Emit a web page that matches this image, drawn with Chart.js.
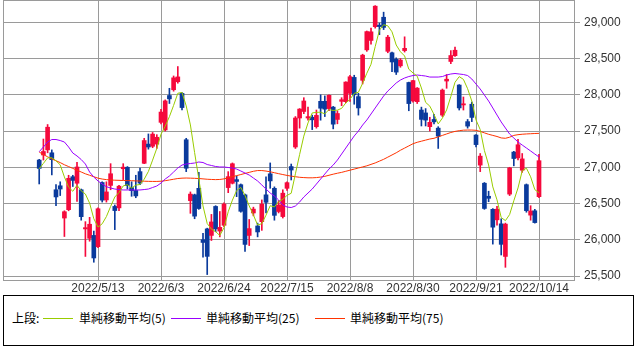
<!DOCTYPE html>
<html lang="ja">
<head>
<meta charset="utf-8">
<title>日足チャート</title>
<script src="https://cdn.jsdelivr.net/npm/chart.js@4.4.1/dist/chart.umd.min.js"></script>
<style>
  html, body { margin: 0; padding: 0; background: #fff; }
  #wrap { position: relative; width: 638px; height: 362px; overflow: hidden; }
  #chartBox { position: absolute; left: 0; top: 0; width: 638px; height: 295px; }
  #legend {
    position: absolute; left: 3px; top: 295px; width: 631px; height: 51px;
    border: 1px solid #000; box-sizing: border-box;
    font: 12px "Noto Sans CJK JP", sans-serif; color: #000;
  }
  #legend .txt { position: absolute; top: 15px; line-height: 14px; white-space: nowrap; }
  #legend .ln { position: absolute; top: 22px; width: 30px; height: 1px; }
</style>
</head>
<body>
<div id="wrap">
  <div id="chartBox"><canvas id="candleChart"></canvas></div>
  <div id="legend">
    <span class="txt" style="left:8px">上段:</span>
    <span class="ln" style="left:39px;background:#99cc00"></span>
    <span class="txt" style="left:75px">単純移動平均(5)</span>
    <span class="ln" style="left:167px;background:#9900ff"></span>
    <span class="txt" style="left:202px">単純移動平均(25)</span>
    <span class="ln" style="left:311px;background:#ff3300"></span>
    <span class="txt" style="left:346px">単純移動平均(75)</span>
  </div>
</div>
<script>
// trading days shown on the chart
const dates = [
  '2022/4/19','2022/4/20','2022/4/21','2022/4/22','2022/4/25','2022/4/26','2022/4/27','2022/4/28',
  '2022/5/2','2022/5/6','2022/5/9','2022/5/10','2022/5/11','2022/5/12','2022/5/13',
  '2022/5/16','2022/5/17','2022/5/18','2022/5/19','2022/5/20',
  '2022/5/23','2022/5/24','2022/5/25','2022/5/26','2022/5/27',
  '2022/5/30','2022/5/31','2022/6/1','2022/6/2','2022/6/3',
  '2022/6/6','2022/6/7','2022/6/8','2022/6/9','2022/6/10',
  '2022/6/13','2022/6/14','2022/6/15','2022/6/16','2022/6/17',
  '2022/6/20','2022/6/21','2022/6/22','2022/6/23','2022/6/24',
  '2022/6/27','2022/6/28','2022/6/29','2022/6/30','2022/7/1',
  '2022/7/4','2022/7/5','2022/7/6','2022/7/7','2022/7/8',
  '2022/7/11','2022/7/12','2022/7/13','2022/7/14','2022/7/15',
  '2022/7/19','2022/7/20','2022/7/21','2022/7/22',
  '2022/7/25','2022/7/26','2022/7/27','2022/7/28','2022/7/29',
  '2022/8/1','2022/8/2','2022/8/3','2022/8/4','2022/8/5',
  '2022/8/8','2022/8/9','2022/8/10','2022/8/12',
  '2022/8/15','2022/8/16','2022/8/17','2022/8/18','2022/8/19',
  '2022/8/22','2022/8/23','2022/8/24','2022/8/25','2022/8/26',
  '2022/8/29','2022/8/30','2022/8/31','2022/9/1','2022/9/2',
  '2022/9/5','2022/9/6','2022/9/7','2022/9/8','2022/9/9',
  '2022/9/12','2022/9/13','2022/9/14','2022/9/15','2022/9/16',
  '2022/9/20','2022/9/21','2022/9/22',
  '2022/9/26','2022/9/27','2022/9/28','2022/9/29','2022/9/30',
  '2022/10/3','2022/10/4','2022/10/5','2022/10/6','2022/10/7',
  '2022/10/11','2022/10/12','2022/10/13','2022/10/14'
];

const opens = [
  27100,27170,27240,27200,26690,26745,26300,26415,26870,26780,
  26690,26150,26020,26060,25905,26790,26550,26750,26460,26440,
  26980,27000,26720,26680,26940,27055,27320,27290,27320,27620,
  27515,27990,28070,28180,28020,27380,26540,26620,26710,26000,
  26150,26060,26460,26120,26200,26720,26780,26830,26760,26620,
  26060,26370,26190,26250,26620,26910,26710,26390,26320,26710,
  27010,27280,27680,27770,27680,27690,27560,27910,27910,27810,
  27830,27660,27910,27905,28020,28240,27975,28200,28620,28750,
  28940,28960,29070,28600,28580,28490,28400,28610,28170,27915,
  27905,27790,27750,27560,27660,27540,27720,28190,28460,28540,
  28135,27860,27630,27870,27445,27030,26780,26600,26420,26275,
  26220,25770,26630,27210,27130,26960,26760,26340,26400,26595
];
const highs = [
  27110,27390,27590,27240,26760,26800,26400,26890,26890,27070,
  26700,26250,26310,26120,26440,26800,26800,27050,26480,26750,
  27050,27010,26800,26890,26990,27400,27460,27480,27450,27800,
  27930,28090,28260,28390,28030,27400,26660,26630,26930,26090,
  26160,26350,26470,26390,26510,26940,27060,26880,26770,26630,
  26280,26450,26230,26550,26870,27060,26730,26540,26690,26800,
  27045,27700,27810,27960,27830,27720,27790,28000,27985,28000,
  27840,27780,27960,28180,28270,28270,28020,28560,28880,28920,
  29230,28990,29140,28820,28590,28510,28500,28800,28175,28200,
  28100,27830,27810,27690,27730,27560,28080,28280,28610,28660,
  28140,27970,27660,27900,27450,27190,26790,26670,26430,26460,
  26290,26230,27000,27220,27385,27190,26770,26470,26420,27180
];
const lows = [
  26770,27100,27200,26895,26470,26610,26045,26400,26735,26530,
  26270,25770,25980,25690,25890,26520,26520,26690,26140,26400,
  26830,26700,26600,26580,26760,27050,27250,27270,27260,27600,
  27500,27880,28050,28160,27790,26940,26365,26290,26420,25760,
  25520,25990,26110,26040,26180,26650,26770,26595,26380,25840,
  25920,26330,26040,26130,26370,26710,26270,26370,26300,26680,
  26825,27260,27540,27740,27650,27520,27540,27650,27700,27780,
  27530,27600,27850,27890,27910,27870,27720,28150,28600,28700,
  28920,28830,28900,28580,28320,28280,28380,28590,27780,27900,
  27880,27570,27570,27500,27600,27260,27700,28090,28430,28530,
  27790,27790,27540,27630,27280,26940,26420,26525,25940,26200,
  25790,25620,26610,27020,27100,26930,26380,26270,26230,26580
];
const closes = [
  26985,27218,27553,27105,26591,26700,26387,26848,26819,27004,
  26319,26167,26214,25749,26428,26547,26660,26911,26403,26739,
  27002,26748,26678,26605,26782,27369,27280,27458,27414,27762,
  27916,27944,28234,28247,27824,26987,26630,26326,26431,25963,
  25771,26246,26150,26171,26492,26871,27049,26805,26393,25936,
  26154,26423,26108,26491,26517,26812,26337,26479,26643,26788,
  26962,27680,27803,27915,27699,27655,27716,27815,27802,27993,
  27595,27742,27932,28176,28249,28000,27819,28547,28872,28869,
  29223,28942,28930,28795,28453,28313,28479,28641,27879,28196,
  28092,27661,27651,27620,27627,27430,28065,28215,28542,28615,
  27819,27876,27568,27688,27313,27154,26432,26572,26174,26422,
  25937,26216,26992,27121,27311,27116,26401,26397,26237,27091
];

// moving averages
const ma5 = [
  26979,27054,27130,27132,27090,27033,26867,26726,26669,26752,
  26675,26631,26505,26291,26175,26221,26320,26459,26590,26652,
  26743,26761,26714,26754,26763,26836,26943,27099,27261,27457,
  27566,27699,27854,28021,28033,27847,27584,27203,26840,26467,
  26224,26147,26112,26060,26166,26386,26547,26678,26722,26611,
  26467,26342,26203,26222,26339,26470,26453,26527,26558,26612,
  26642,26910,27175,27430,27612,27750,27758,27760,27737,27796,
  27784,27789,27813,27888,27939,28020,28035,28158,28297,28421,
  28666,28891,28967,28952,28869,28687,28594,28536,28353,28302,
  28257,28094,27896,27844,27730,27598,27679,27791,27976,28173,
  28251,28213,28084,27913,27653,27520,27231,27032,26729,26551,
  26307,26264,26348,26538,26715,26951,26988,26869,26692,26648
];
const ma25 = [
  27215,27280,27349,27383,27383,27369,27349,27280,27197,27156,
  27107,27045,26935,26866,26811,26769,26732,26714,26700,26693,
  26687,26687,26687,26687,26687,26693,26700,26721,26742,26783,
  26838,26880,26935,26990,27031,27045,27052,27059,27073,27066,
  27038,27025,27011,27004,27004,26997,26990,26976,26949,26921,
  26893,26852,26811,26756,26700,26645,26604,26549,26480,26452,
  26445,26466,26521,26590,26645,26700,26769,26838,26907,26976,
  27031,27100,27183,27266,27349,27432,27500,27583,27652,27735,
  27818,27901,27983,28052,28107,28163,28204,28232,28252,28266,
  28273,28266,28259,28245,28245,28245,28252,28273,28287,28294,
  28287,28280,28266,28218,28149,28080,27997,27914,27818,27721,
  27625,27542,27459,27404,27349,27307,27266,27225,27183,27142
];
const ma75 = [
  27210,27175,27145,27115,27090,27065,27035,27010,26985,26960,
  26935,26910,26890,26870,26850,26838,26830,26825,26822,26820,
  26818,26816,26815,26812,26810,26808,26806,26805,26805,26808,
  26815,26825,26835,26845,26850,26852,26850,26848,26845,26840,
  26835,26832,26830,26832,26840,26855,26870,26885,26900,26915,
  26930,26945,26955,26955,26948,26938,26925,26912,26900,26888,
  26878,26870,26862,26858,26855,26855,26858,26865,26875,26890,
  26905,26918,26930,26945,26960,26975,26990,27005,27020,27040,
  27060,27085,27110,27140,27170,27200,27235,27265,27295,27325,
  27345,27360,27375,27390,27400,27420,27440,27460,27480,27495,
  27505,27512,27514,27514,27510,27495,27475,27455,27440,27425,
  27405,27400,27415,27440,27450,27456,27460,27463,27466,27468
];

const xTickLabels = ['2022/5/13','2022/6/3','2022/6/24','2022/7/15','2022/8/8','2022/8/30','2022/9/21','2022/10/14'];
const yTicks = [25500, 26000, 26500, 27000, 27500, 28000, 28500, 29000];

const UP = '#f5093c';
const DOWN = '#0a3a9c';
const GRID = '#9a9a9a';

const candleColors = closes.map((c, i) => (c >= opens[i] ? UP : DOWN));
const xTickIdx = xTickLabels.map(l => dates.indexOf(l));

const wickData = dates.map((d, i) => ({ x: i, y: [lows[i], highs[i]] }));
const bodyData = dates.map((d, i) => ({ x: i, y: [opens[i], closes[i]] }));
const toLine = arr => arr.map((v, i) => ({ x: i, y: v }));

// outer frame of the plot area
const framePlugin = {
  id: 'frame',
  beforeDatasetsDraw(chart) {
    const { ctx, chartArea: a } = chart;
    ctx.save();
    ctx.strokeStyle = GRID;
    ctx.lineWidth = 1;
    ctx.strokeRect(a.left + 0.5, a.top + 0.5, a.right - a.left, a.bottom - a.top);
    ctx.restore();
  }
};

const lineDs = (arr, color) => ({
  type: 'line',
  data: toLine(arr),
  borderColor: color,
  borderWidth: 1,
  pointRadius: 0,
  tension: 0,
  order: 0
});

new Chart(document.getElementById('candleChart'), {
  type: 'bar',
  data: {
    datasets: [
      lineDs(ma5, '#99cc00'),
      lineDs(ma25, '#9900ff'),
      lineDs(ma75, '#ff3300'),
      {
        data: bodyData,
        backgroundColor: candleColors,
        borderWidth: 0,
        barThickness: 4,
        minBarLength: 1,
        grouped: false,
        order: 1
      },
      {
        data: wickData,
        backgroundColor: candleColors,
        borderWidth: 0,
        barThickness: 1,
        grouped: false,
        order: 2
      }
    ]
  },
  options: {
    responsive: true,
    maintainAspectRatio: false,
    animation: false,
    layout: { padding: { left: 3, top: 0, right: 0, bottom: 0 } },
    plugins: {
      legend: { display: false },
      tooltip: { enabled: false }
    },
    scales: {
      x: {
        type: 'linear',
        offset: false,
        min: -8.62,
        max: 127.33,
        grid: { color: GRID, drawTicks: false, offset: false },
        border: { display: false },
        afterBuildTicks: scale => { scale.ticks = xTickIdx.map(v => ({ value: v })); },
        afterFit: scale => {
          scale.height = 15;
          scale.paddingLeft = 0;
          scale.paddingRight = 0;
        },
        ticks: {
          autoSkip: false,
          maxRotation: 0,
          padding: 1,
          color: '#333',
          font: { family: '"Liberation Sans", Arial, sans-serif', size: 12 },
          callback: v => dates[v]
        }
      },
      y: {
        position: 'right',
        min: 25445,
        max: 29308,
        grid: { color: GRID, tickLength: 6 },
        border: { display: false },
        afterBuildTicks: scale => { scale.ticks = yTicks.map(v => ({ value: v })); },
        afterFit: scale => {
          scale.width = 64;
          scale.paddingTop = 0;
          scale.paddingBottom = 0;
        },
        ticks: {
          padding: 4,
          color: '#333',
          font: { family: '"Liberation Sans", Arial, sans-serif', size: 12 },
          callback: v => v.toLocaleString('en-US')
        }
      }
    }
  },
  plugins: [framePlugin]
});
</script>
</body>
</html>
